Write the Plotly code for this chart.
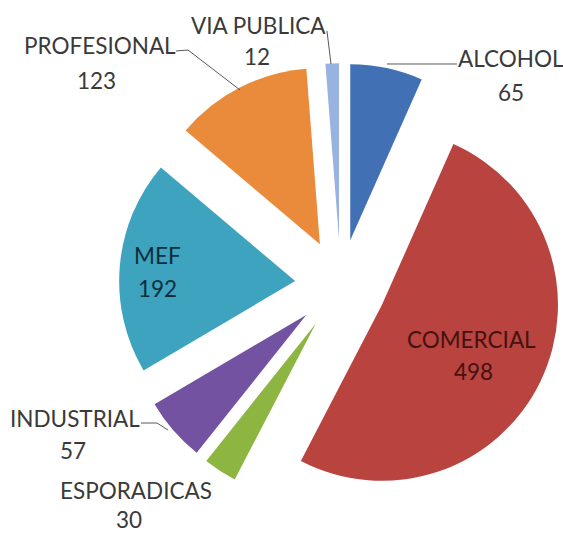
import plotly.graph_objects as go

# Case counts by category (clockwise from 12 o'clock)
labels = ["ALCOHOL", "COMERCIAL", "ESPORADICAS", "INDUSTRIAL", "MEF", "PROFESIONAL", "VIA PUBLICA"]
values = [65, 498, 30, 57, 192, 123, 12]
colors = ["#4170B5", "#B8433F", "#8DB542", "#7252A1", "#3DA3BF", "#E98B3A", "#98B3DF"]

W, H = 563, 535
FONT = "Lato, Carlito, sans-serif"


def px(x, y):
    """Pixel position -> paper coordinates."""
    return x / W, 1 - y / H


fig = go.Figure(
    go.Pie(
        labels=labels,
        values=values,
        sort=False,
        direction="clockwise",
        rotation=0,
        pull=[0.26] * len(values),
        marker=dict(colors=colors, line=dict(width=0)),
        textinfo="none",
        hoverinfo="label+value",
        showlegend=False,
        domain=dict(x=[119.0 / W, 562.5 / W], y=[1 - 506.8 / H, 1 - 63.2 / H]),
    )
)

# (name line centre, value line centre) in pixels for each category
label_pos = {
    "ALCOHOL": ((511, 59), (511, 92)),
    "COMERCIAL": ((471, 339), (473, 371)),
    "ESPORADICAS": ((136, 490), (129, 519)),
    "INDUSTRIAL": ((75, 418), (73, 450)),
    "MEF": ((157, 256), (157, 288)),
    "PROFESIONAL": ((100, 45), (96, 80)),
    "VIA PUBLICA": ((258, 25), (257, 57)),
}
inside = {"COMERCIAL": "#45120F", "MEF": "#0E2E3C"}

for lab, val in zip(labels, values):
    color = inside.get(lab, "#3A3A3A")
    for txt, pos in zip((lab, str(val)), label_pos[lab]):
        x, y = px(*pos)
        fig.add_annotation(
            x=x, y=y, xref="paper", yref="paper",
            text=txt, showarrow=False,
            font=dict(family=FONT, size=22.5, color=color),
            xanchor="center", yanchor="middle", borderpad=0,
        )

# leader lines from outside labels to their slices
leaders = [
    [(457, 64), (387, 64)],                 # ALCOHOL
    [(176, 51), (188, 50), (240, 90)],      # PROFESIONAL
    [(327, 31), (331, 64)],                 # VIA PUBLICA
    [(141, 423), (157, 423), (168, 430)],   # INDUSTRIAL
]
for pts in leaders:
    p = [px(*q) for q in pts]
    path = "M " + " L ".join(f"{a:.4f},{b:.4f}" for a, b in p)
    fig.add_shape(type="path", path=path, xref="paper", yref="paper",
                  line=dict(color="#595959", width=1))

fig.update_layout(
    width=W, height=H,
    margin=dict(l=0, r=0, t=0, b=0),
    paper_bgcolor="white",
    plot_bgcolor="white",
)

fig.write_html("out.html")
